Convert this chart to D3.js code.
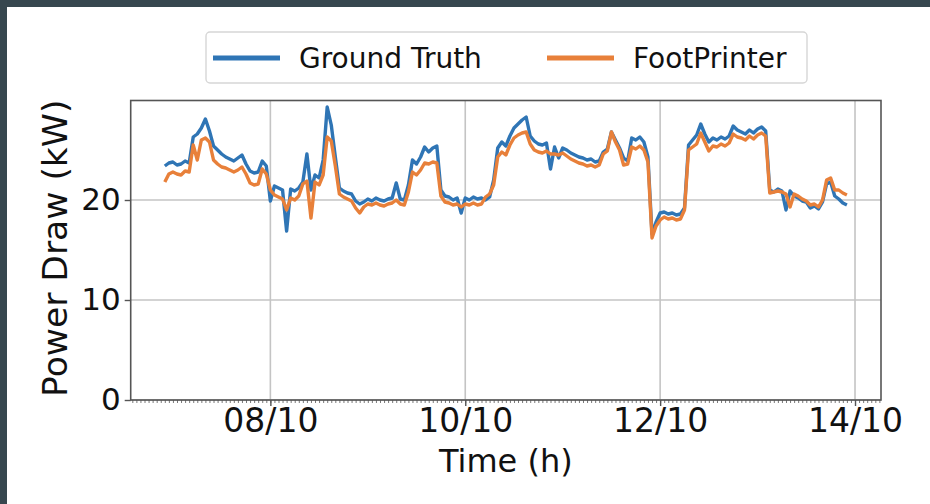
<!DOCTYPE html>
<html>
<head>
<meta charset="utf-8">
<script src="https://cdn.jsdelivr.net/npm/d3@7"></script>
<style>
  html, body { margin: 0; background: #fff; overflow: hidden; }
  svg { display: block; }
  text { font-family: "DejaVu Sans", sans-serif; fill: #111; }
</style>
</head>
<body>
<script>

// hourly samples, starting 06/10 22:00
var startTime = new Date(2023, 9, 6, 22, 0);

var groundTruth = [
  23.4, 23.7, 23.8, 23.5, 23.6, 23.9, 23.7, 26.3, 26.6, 27.2,
  28.1, 26.9, 25.4, 25.0, 24.6, 24.3, 24.1, 23.9, 24.2, 24.5,
  23.6, 22.9, 22.7, 22.8, 23.9, 23.4, 19.9, 21.4, 21.2, 21.0,
  16.9, 21.1, 20.9, 21.2, 21.8, 24.6, 21.0, 22.5, 22.2, 24.0,
  29.3, 27.5, 24.3, 21.2, 20.9, 20.7, 20.6, 19.9, 19.6, 19.8,
  20.1, 19.9, 20.2, 20.0, 19.9, 20.1, 20.2, 21.7, 20.1, 20.0,
  21.5, 24.0, 23.6, 24.3, 25.3, 24.8, 25.2, 25.4, 21.0, 20.4,
  20.3, 20.0, 20.2, 18.7, 20.2, 20.0, 20.3, 20.1, 20.2, 20.0,
  20.3, 22.0, 25.2, 25.8, 25.4, 26.4, 27.2, 27.6, 28.0, 28.3,
  26.4, 25.9, 25.6, 25.5, 25.7, 23.1, 25.3, 24.2, 25.2, 25.0,
  24.7, 24.5, 24.3, 24.2, 24.0, 24.1, 23.8, 23.9, 24.8, 25.1,
  26.8, 26.0, 25.2, 24.2, 23.9, 26.2, 26.0, 26.3, 25.8, 24.3,
  16.6, 17.8, 18.7, 18.8, 18.6, 18.7, 18.5, 18.6, 19.2, 25.5,
  26.0, 26.5, 27.6, 26.6, 25.8, 26.2, 26.0, 26.3, 26.1, 26.4,
  27.4, 27.0, 26.8, 26.6, 27.0, 26.7, 27.1, 27.3, 26.9, 21.0,
  20.8, 21.1, 20.9, 19.0, 20.9, 20.4, 20.2, 19.9, 19.8, 19.2,
  19.4, 19.1, 19.8, 21.6, 21.8, 20.4, 20.1, 19.7, 19.5
];

var footPrinter = [
  21.8, 22.6, 22.8, 22.6, 22.5, 22.9, 22.8, 25.5, 24.0, 26.0,
  26.2, 25.8, 24.0, 23.6, 23.3, 23.2, 23.0, 22.8, 23.0, 23.3,
  22.6, 21.7, 21.5, 21.6, 23.1, 22.6, 21.0, 20.5, 20.3, 20.1,
  19.0, 20.2, 20.0, 20.4, 21.6, 21.9, 18.2, 21.8, 21.5, 22.5,
  26.3, 25.9, 23.4, 20.6, 20.3, 20.1, 19.9, 19.2, 18.7, 19.3,
  19.6, 19.5, 19.7, 19.5, 19.4, 19.6, 19.7, 20.0, 19.6, 19.5,
  20.8, 22.8, 22.5, 23.0, 23.7, 23.6, 23.8, 23.7, 20.4, 19.8,
  19.7, 19.5, 19.6, 19.3, 19.6, 19.5, 19.7, 19.5, 19.6, 20.3,
  20.6, 21.5, 24.3, 24.8, 24.5, 25.5, 26.2, 26.5, 26.7, 26.8,
  25.6, 25.0, 24.8, 24.7, 24.9, 24.6, 24.6, 24.5, 24.7, 24.4,
  24.1, 23.9, 23.7, 23.6, 23.4, 23.5, 23.3, 23.5, 24.6, 24.9,
  26.8, 25.8, 25.0, 23.5, 23.6, 25.3, 25.1, 25.4, 25.0, 23.8,
  16.2, 17.4, 18.0, 18.3, 18.1, 18.2, 18.0, 18.1, 19.0, 25.0,
  25.3, 25.6, 26.7, 25.8, 24.9, 25.4, 25.3, 25.6, 25.4, 25.7,
  26.6, 26.3, 26.2, 26.0, 26.4, 26.1, 26.5, 26.7, 26.4, 20.7,
  20.8, 20.9, 20.8, 20.6, 19.3, 20.6, 20.4, 20.1, 19.9, 19.5,
  19.6, 19.3, 20.0, 22.0, 22.2, 21.0, 21.0, 20.7, 20.5
];

var seriesNames = ["Ground Truth", "FootPrinter"];
var seriesColors = ["#2f75b5", "#e8803a"];
var yTicks = [0, 10, 20];

var W = 930, H = 504;
var plot = {left: 130.7, right: 881, top: 100.5, bottom: 400};

var svg = d3.select("body").append("svg")
  .attr("width", W)
  .attr("height", H);

// white page with the dark band of the screenshot on top and left
svg.append("rect").attr("x", 0).attr("y", 0).attr("width", W).attr("height", H).attr("fill", "#fff");
svg.append("rect").attr("x", 0).attr("y", 0).attr("width", W).attr("height", 7).attr("fill", "#37474f");
svg.append("rect").attr("x", 0).attr("y", 0).attr("width", 7).attr("height", H).attr("fill", "#37474f");

var times = groundTruth.map(function(d, i) {
  return d3.timeHour.offset(startTime, i);
});
var span = times[times.length - 1] - times[0];
var pad = span * 0.05;

var x = d3.scaleTime()
  .domain([new Date(+times[0] - pad), new Date(+times[times.length - 1] + pad)])
  .range([plot.left, plot.right]);

var y = d3.scaleLinear()
  .domain([0, 29.95])
  .range([plot.bottom, plot.top]);

var majorX = d3.timeDay.range(x.domain()[0], x.domain()[1])
  .filter(function(d) { return d.getDate() % 2 === 0; });
var minorX = d3.timeHour.every(1).range(x.domain()[0], x.domain()[1]);

// grid
var grid = svg.append("g");
grid.selectAll(".gx").data(majorX).enter().append("line")
  .attr("x1", function(d) { return x(d); })
  .attr("x2", function(d) { return x(d); })
  .attr("y1", plot.top).attr("y2", plot.bottom)
  .attr("stroke", "#c4c4c4").attr("stroke-width", 1.6);
grid.selectAll(".gy").data(yTicks).enter().append("line")
  .attr("x1", plot.left).attr("x2", plot.right)
  .attr("y1", function(d) { return y(d); })
  .attr("y2", function(d) { return y(d); })
  .attr("stroke", "#c4c4c4").attr("stroke-width", 1.6);

// lines
var line = d3.line()
  .x(function(d, i) { return x(times[i]); })
  .y(function(d) { return y(d); });

[groundTruth, footPrinter].forEach(function(s, k) {
  svg.append("path")
    .datum(s)
    .attr("d", line)
    .attr("fill", "none")
    .attr("stroke", seriesColors[k])
    .attr("stroke-width", 3.4)
    .attr("stroke-linejoin", "round");
});

// frame
svg.append("rect")
  .attr("x", plot.left).attr("y", plot.top)
  .attr("width", plot.right - plot.left)
  .attr("height", plot.bottom - plot.top)
  .attr("fill", "none")
  .attr("stroke", "#555").attr("stroke-width", 1.6);

// x axis
var xAxis = d3.axisBottom(x)
  .tickValues(majorX)
  .tickSize(6)
  .tickPadding(3)
  .tickFormat(d3.timeFormat("%d/%m"));
var gx = svg.append("g")
  .attr("transform", "translate(0," + plot.bottom + ")")
  .call(xAxis);
gx.select(".domain").remove();
gx.selectAll("line").attr("stroke", "#555").attr("stroke-width", 1.4);
gx.selectAll("text").attr("font-size", 33).attr("font-family", "DejaVu Sans").attr("fill", "#111");

var gxm = svg.append("g")
  .attr("transform", "translate(0," + plot.bottom + ")")
  .call(d3.axisBottom(x).tickValues(minorX).tickSize(3).tickFormat(""));
gxm.select(".domain").remove();
gxm.selectAll("line").attr("stroke", "#555").attr("stroke-width", 0.8);

// y axis
var yAxis = d3.axisLeft(y)
  .tickValues(yTicks)
  .tickSize(6)
  .tickPadding(4);
var gy = svg.append("g")
  .attr("transform", "translate(" + plot.left + ",0)")
  .call(yAxis);
gy.select(".domain").remove();
gy.selectAll("line").attr("stroke", "#555").attr("stroke-width", 1.4);
gy.selectAll("text").attr("font-size", 31).attr("font-family", "DejaVu Sans").attr("fill", "#111");

// axis titles
svg.append("text")
  .attr("x", (plot.left + plot.right) / 2)
  .attr("y", 472)
  .attr("text-anchor", "middle")
  .attr("font-size", 32)
  .text("Time (h)");

svg.append("text")
  .attr("transform", "translate(67," + ((plot.top + plot.bottom) / 2 - 2) + ") rotate(-90)")
  .attr("text-anchor", "middle")
  .attr("font-size", 34.5)
  .text("Power Draw (kW)");

// legend
var legend = svg.append("g");
legend.append("rect")
  .attr("x", 206).attr("y", 32)
  .attr("width", 601).attr("height", 51)
  .attr("rx", 4)
  .attr("fill", "#fff")
  .attr("stroke", "#d6d6d6").attr("stroke-width", 1.4);

var legendX = [213, 547];
seriesNames.forEach(function(name, k) {
  legend.append("line")
    .attr("x1", legendX[k]).attr("x2", legendX[k] + 67)
    .attr("y1", 58).attr("y2", 58)
    .attr("stroke", seriesColors[k]).attr("stroke-width", 5);
  legend.append("text")
    .attr("x", legendX[k] + 86)
    .attr("y", 68)
    .attr("font-size", 28)
    .text(name);
});

</script>
</body>
</html>
